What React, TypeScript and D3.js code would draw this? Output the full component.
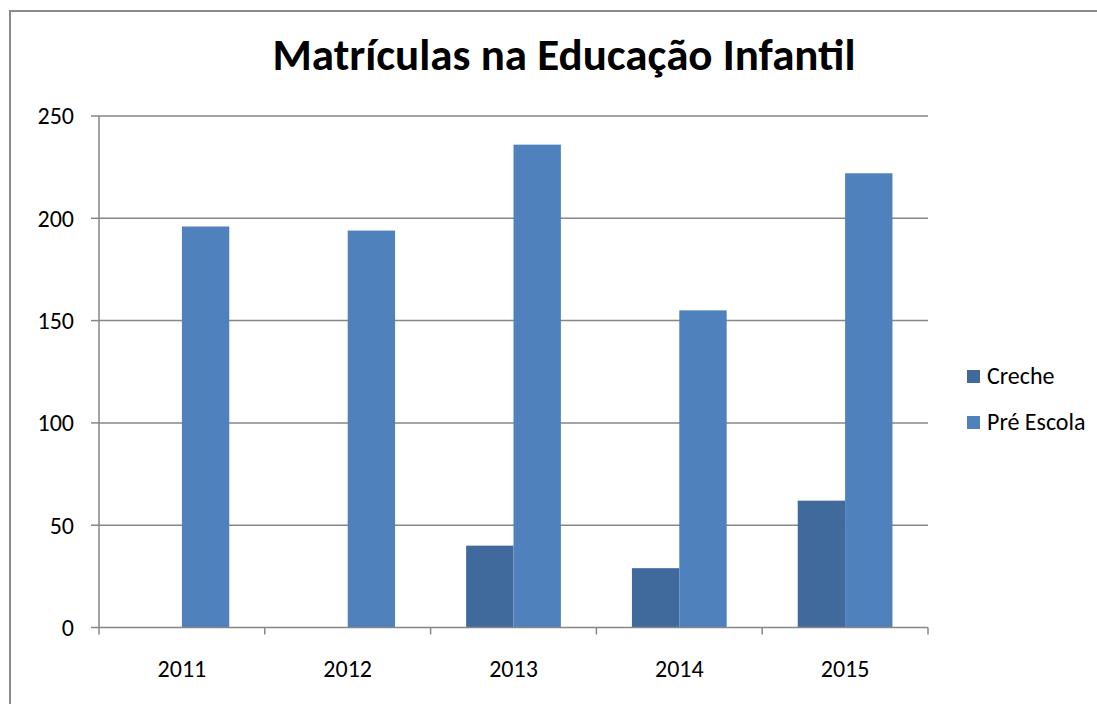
import React, { useEffect, useRef } from "react"
import * as d3 from "d3"

const years = ["2011", "2012", "2013", "2014", "2015"]
const creche = [0, 0, 40, 29, 62]
const preEscola = [196, 194, 236, 155, 222]
const seriesNames = ["Creche", "Pré Escola"]
const seriesColors = ["#416A9C", "#4F81BD"]
const yTicks = [0, 50, 100, 150, 200, 250]

const W = 1097
const H = 704

export default function App() {
    const ref = useRef<SVGSVGElement>(null)

    useEffect(() => {
        const svg = d3.select(ref.current)
        svg.selectAll("*").remove()

        const left = 99
        const right = 928
        const top = 116
        const bottom = 627.5
        const font = "Carlito, 'Open Sans', sans-serif"
        const labelSize = 24

        // chart frame, runs off the right and bottom of the page
        svg.append("rect")
            .attr("x", 10)
            .attr("y", 11)
            .attr("width", 1100)
            .attr("height", 720)
            .attr("fill", "white")
            .attr("stroke", "#8c8c8c")
            .attr("stroke-width", 2)

        svg.append("text")
            .attr("x", 564)
            .attr("y", 70)
            .attr("text-anchor", "middle")
            .attr("font-family", font)
            .attr("font-weight", "bold")
            .attr("font-size", 45)
            .attr("fill", "black")
            .text("Matrículas na Educação Infantil")

        const x = d3.scaleBand().domain(years).range([left, right])
        const inner = d3.scaleBand()
            .domain(seriesNames)
            .range([0, x.bandwidth()])
            .paddingInner(0)
            .paddingOuter(0.75)
        const y = d3.scaleLinear().domain([0, 250]).range([bottom, top])

        // gridlines
        svg.append("g")
            .selectAll("line")
            .data(yTicks.filter(t => t > 0))
            .enter()
            .append("line")
            .attr("x1", left)
            .attr("x2", right)
            .attr("y1", d => y(d))
            .attr("y2", d => y(d))
            .attr("stroke", "#868686")
            .attr("stroke-width", 1.5)

        const data = [creche, preEscola]
        data.forEach((vals, si) => {
            svg.append("g")
                .selectAll("rect")
                .data(vals)
                .enter()
                .append("rect")
                .attr("x", (d, i) => (x(years[i]) as number) + (inner(seriesNames[si]) as number))
                .attr("width", inner.bandwidth())
                .attr("y", d => y(d))
                .attr("height", d => bottom - y(d))
                .attr("fill", seriesColors[si])
        })

        // y axis
        const yAxis = svg.append("g")
        yAxis.append("line")
            .attr("x1", left).attr("x2", left)
            .attr("y1", top).attr("y2", bottom + 7)
            .attr("stroke", "#868686").attr("stroke-width", 1.5)
        yAxis.selectAll("line.tick")
            .data(yTicks)
            .enter()
            .append("line")
            .attr("class", "tick")
            .attr("x1", left - 8).attr("x2", left)
            .attr("y1", d => y(d)).attr("y2", d => y(d))
            .attr("stroke", "#868686").attr("stroke-width", 1.5)
        yAxis.selectAll("text")
            .data(yTicks)
            .enter()
            .append("text")
            .attr("x", 74)
            .attr("y", d => y(d))
            .attr("dy", "0.35em")
            .attr("text-anchor", "end")
            .attr("font-family", font)
            .attr("font-size", labelSize)
            .text(d => d)

        // x axis
        const xAxis = svg.append("g")
        xAxis.append("line")
            .attr("x1", left).attr("x2", right)
            .attr("y1", bottom).attr("y2", bottom)
            .attr("stroke", "#868686").attr("stroke-width", 1.5)
        xAxis.selectAll("line.tick")
            .data(years.map((d, i) => i + 1))
            .enter()
            .append("line")
            .attr("class", "tick")
            .attr("x1", i => left + i * x.step())
            .attr("x2", i => left + i * x.step())
            .attr("y1", bottom).attr("y2", bottom + 7)
            .attr("stroke", "#868686").attr("stroke-width", 1.5)
        xAxis.selectAll("text")
            .data(years)
            .enter()
            .append("text")
            .attr("x", d => (x(d) as number) + x.bandwidth() / 2)
            .attr("y", 677)
            .attr("text-anchor", "middle")
            .attr("font-family", font)
            .attr("font-size", labelSize)
            .text(d => d)

        // legend
        const legend = svg.append("g")
        seriesNames.forEach((name, i) => {
            const cy = 376 + i * 46
            legend.append("rect")
                .attr("x", 967).attr("y", cy - 6)
                .attr("width", 13).attr("height", 13)
                .attr("fill", seriesColors[i])
            legend.append("text")
                .attr("x", 987).attr("y", cy)
                .attr("dy", "0.35em")
                .attr("font-family", font)
                .attr("font-size", labelSize)
                .text(name)
        })
    }, [])

    return (
        <svg ref={ref} width={W} height={H}
            style={{ position: "absolute", left: 0, top: 0, display: "block" }} />
    )
}
